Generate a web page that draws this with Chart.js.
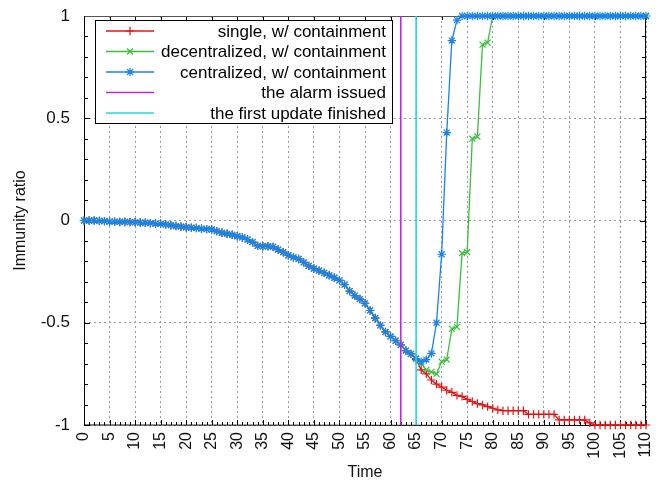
<!DOCTYPE html>
<html>
<head>
<meta charset="utf-8">
<script src="https://cdn.jsdelivr.net/npm/chart.js@4.4.1/dist/chart.umd.min.js"></script>
<style>
  html, body { margin: 0; padding: 0; background: #fff; }
  #wrap { width: 663px; height: 482px; position: relative; }
</style>
</head>
<body>
<div id="wrap"><canvas id="immunityChart"></canvas></div>
<script>
// time steps 0..110
const times = Array.from({ length: 111 }, (_, i) => i);

// all three runs coincide until the alarm (t = 0..64)
const sharedStart = [
  0.0, 0.0, 0.0, -0.002, -0.003, -0.005, -0.006, -0.007, -0.007, -0.008,
  -0.008, -0.010, -0.011, -0.013, -0.015, -0.016, -0.019, -0.023, -0.027, -0.030,
  -0.033, -0.035, -0.037, -0.040, -0.042, -0.044, -0.052, -0.060, -0.065, -0.070,
  -0.077, -0.083, -0.093, -0.106, -0.124, -0.126, -0.126, -0.129, -0.142, -0.155,
  -0.170, -0.180, -0.188, -0.205, -0.222, -0.235, -0.245, -0.256, -0.268, -0.280,
  -0.293, -0.314, -0.345, -0.367, -0.384, -0.405, -0.440, -0.477, -0.513, -0.545,
  -0.567, -0.588, -0.608, -0.636, -0.652
];

// t = 65..110
const singleTail = [
  -0.68, -0.73, -0.75, -0.78, -0.80, -0.815, -0.83, -0.84, -0.855, -0.86,
  -0.875, -0.885, -0.895, -0.902, -0.91, -0.918, -0.926, -0.93, -0.93, -0.93,
  -0.93, -0.93, -0.948, -0.948, -0.948, -0.948, -0.948, -0.948, -0.975, -0.975,
  -0.975, -0.975, -0.975, -0.975, -0.99, -1, -1, -1, -1, -1,
  -1, -1, -1, -1, -1, -1
];
const decentralTail = [
  -0.675, -0.70, -0.73, -0.74, -0.75, -0.69, -0.68, -0.53, -0.52, -0.16,
  -0.155, 0.40, 0.41, 0.86, 0.87, 1, 1, 1, 1, 1,
  1, 1, 1, 1, 1, 1, 1, 1, 1, 1,
  1, 1, 1, 1, 1, 1, 1, 1, 1, 1,
  1, 1, 1, 1, 1, 1
];
const centralTail = [
  -0.675, -0.69, -0.68, -0.65, -0.50, -0.165, 0.43, 0.88, 0.98, 1,
  1, 1, 1, 1, 1, 1, 1, 1, 1, 1,
  1, 1, 1, 1, 1, 1, 1, 1, 1, 1,
  1, 1, 1, 1, 1, 1, 1, 1, 1, 1,
  1, 1, 1, 1, 1, 1
];

const single = sharedStart.concat(singleTail);
const decentralized = sharedStart.concat(decentralTail);
const centralized = sharedStart.concat(centralTail);

const alarmTime = 62;
const firstUpdateTime = 65;
const yRange = [-1, 1];

const FONT = '"Liberation Sans", Arial, sans-serif';

function series(label, values, color, style, order) {
  return {
    label: label,
    data: values,
    borderColor: color,
    backgroundColor: color,
    borderWidth: 1.3,
    pointStyle: style,
    pointRadius: 4.2,
    pointBorderWidth: 1.2,
    pointBorderColor: color,
    tension: 0,
    clip: false,
    order: order
  };
}

function vline(label, t, color, order) {
  return {
    label: label,
    data: yRange.map(v => ({ x: t, y: v })),
    borderColor: color,
    backgroundColor: color,
    borderWidth: 1.6,
    pointRadius: 0,
    pointStyle: false,
    order: order
  };
}

// fixed axis box sizes, no extra label overflow padding
function fixBox(size, horizontal) {
  return s => {
    if (horizontal) s.height = size; else s.width = size;
    s.paddingTop = 0;
    s.paddingBottom = 0;
    s.paddingLeft = 0;
    s.paddingRight = 0;
  };
}

const frame = {
  id: 'frame',
  beforeDatasetsDraw(chart) {
    const { ctx, chartArea: { left, right, top, bottom }, scales: { x, y } } = chart;
    ctx.save();
    ctx.strokeStyle = '#000';
    ctx.lineWidth = 1;
    ctx.beginPath();
    for (let t = x.min; t <= x.max; t++) {
      const px = Math.round(x.getPixelForValue(t)) + 0.5;
      const len = t % 5 ? 3 : 5;
      ctx.moveTo(px, bottom);
      ctx.lineTo(px, bottom - len);
      if (t % 5 === 0) {
        ctx.moveTo(px, top);
        ctx.lineTo(px, top + 4);
      }
    }
    for (let i = -10; i <= 10; i++) {
      const py = Math.round(y.getPixelForValue(i / 10)) + 0.5;
      const len = i % 5 ? 4 : 6;
      ctx.moveTo(left, py);
      ctx.lineTo(left + len, py);
      ctx.moveTo(right, py);
      ctx.lineTo(right - len, py);
    }
    ctx.stroke();
    ctx.strokeStyle = '#555';
    ctx.beginPath();
    ctx.moveTo(left, Math.round(top) + 0.5);
    ctx.lineTo(right, Math.round(top) + 0.5);
    ctx.stroke();
    ctx.strokeStyle = '#000';
    ctx.beginPath();
    ctx.moveTo(Math.round(left) + 0.5, top);
    ctx.lineTo(Math.round(left) + 0.5, bottom);
    ctx.lineTo(right, Math.round(bottom) + 0.5);
    ctx.moveTo(Math.round(right) - 0.5, top);
    ctx.lineTo(Math.round(right) - 0.5, bottom);
    ctx.stroke();
    ctx.restore();
  }
};

const boxLegend = {
  id: 'boxLegend',
  afterDraw(chart) {
    const { ctx, chartArea: { left, top } } = chart;
    const bx = left + 11, by = top + 4, bw = 297, bh = 103;
    ctx.save();
    ctx.fillStyle = '#fff';
    ctx.fillRect(bx, by, bw, bh);
    ctx.strokeStyle = '#000';
    ctx.lineWidth = 1;
    ctx.strokeRect(bx + 0.5, by + 0.5, bw, bh);
    ctx.font = '17px ' + FONT;
    ctx.textAlign = 'right';
    ctx.textBaseline = 'middle';
    chart.data.datasets.forEach((ds, i) => {
      const ry = by + 11 + i * 20.5;
      ctx.strokeStyle = ds.borderColor;
      ctx.lineWidth = 1.5;
      ctx.beginPath();
      ctx.moveTo(bx + 11, ry);
      ctx.lineTo(bx + 59, ry);
      ctx.stroke();
      if (ds.pointStyle) {
        ctx.fillStyle = ds.borderColor;
        ctx.lineWidth = 1.2;
        Chart.helpers.drawPoint(ctx, { pointStyle: ds.pointStyle, radius: 4.2, borderWidth: 1.2, rotation: 0 }, bx + 35, ry);
      }
      ctx.fillStyle = '#000';
      ctx.fillText(ds.label, bx + bw - 6, ry + 1);
    });
    ctx.restore();
  }
};

const data = {
  labels: times,
  datasets: [
    series('single, w/ containment', single, 'rgb(228,20,20)', 'cross', 4),
    series('decentralized, w/ containment', decentralized, 'rgb(60,190,60)', 'crossRot', 3),
    series('centralized, w/ containment', centralized, 'rgb(25,130,235)', 'star', 2),
    vline('the alarm issued', alarmTime, 'rgb(175,45,220)', 1),
    vline('the first update finished', firstUpdateTime, 'rgb(30,220,225)', 0)
  ]
};

const options = {
  responsive: true,
  maintainAspectRatio: false,
  animation: false,
  layout: { padding: { top: 16, right: 17, left: 0, bottom: 0 } },
  plugins: {
    legend: { display: false },
    tooltip: { enabled: false }
  },
  scales: {
    x: {
      type: 'linear',
      min: 0,
      max: 110,
      afterFit: fixBox(57, true),
      ticks: {
        stepSize: 5,
        autoSkip: false,
        minRotation: 90,
        maxRotation: 90,
        padding: 7,
        color: '#111',
        font: { family: FONT, size: 16 }
      },
      grid: { color: '#9a9a9a', lineWidth: 1, drawTicks: false },
      border: { display: false, dash: [2, 3] },
      title: {
        display: true,
        text: 'Time',
        color: '#111',
        font: { family: FONT, size: 16 },
        padding: { top: -4, bottom: 0 }
      }
    },
    y: {
      min: -1,
      max: 1,
      afterFit: fixBox(84, false),
      ticks: {
        stepSize: 0.5,
        padding: 14,
        color: '#111',
        font: { family: FONT, size: 17 },
        callback: v => String(v)
      },
      grid: { color: '#9a9a9a', lineWidth: 1, drawTicks: false },
      border: { display: false, dash: [2, 3] },
      title: {
        display: true,
        text: 'Immunity ratio',
        color: '#111',
        font: { family: FONT, size: 16 },
        padding: { top: 11, bottom: 0 }
      }
    }
  }
};

const config = {
  type: 'line',
  data: data,
  options: options,
  plugins: [frame, boxLegend]
};

var ctx = document.getElementById('immunityChart').getContext('2d');
new Chart(ctx, config);
</script>
</body>
</html>
